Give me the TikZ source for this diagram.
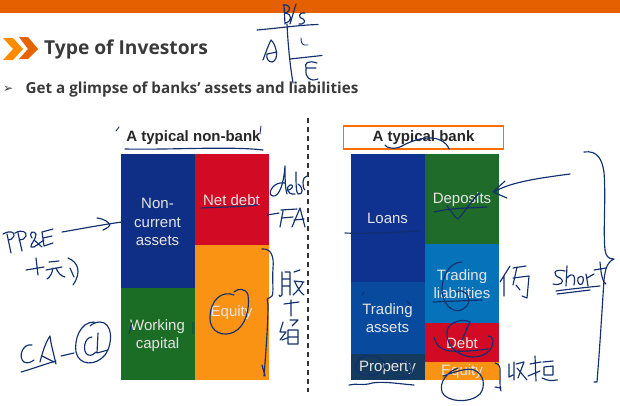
\documentclass[tikz,border=0pt]{standalone}
\usepackage{fontspec}
\setmainfont{Open Sans}
\newfontfamily\arialf{Liberation Sans}
\newfontfamily\djv{DejaVu Sans}
\definecolor{hdr}{HTML}{E46000}
\definecolor{ink}{HTML}{12306F}
\definecolor{navy}{HTML}{0F2F87}
\definecolor{redb}{HTML}{D20A24}
\definecolor{greenb}{HTML}{1B6D25}
\definecolor{orangeb}{HTML}{FA9214}
\definecolor{loans}{HTML}{0F318F}
\definecolor{tassets}{HTML}{084A9E}
\definecolor{prop}{HTML}{143A5E}
\definecolor{deps}{HTML}{1F6B2A}
\definecolor{tliab}{HTML}{0672BA}
\definecolor{txtg}{HTML}{3A3A3A}
\tikzset{
 seg/.style={fill=#1,draw=none,inner sep=0pt,anchor=north west},
 lbl/.style={font=\arialf\fontsize{15}{18.2}\selectfont,text=white!90!black,align=center,inner sep=0pt},
 pen/.style={draw=ink,line width=1.15pt,line cap=round,line join=round},
 thin pen/.style={draw=ink,line width=.9pt,line cap=round,line join=round},
 captxt/.style={font=\arialf\bfseries\fontsize{15}{18}\selectfont,text=black!85,inner sep=0pt}
}
\newcommand{\segbox}[6]{\node[seg=#6,minimum width=#3pt,minimum height=#4pt] (#5) at (#1,#2) {};}
\begin{document}
\begin{tikzpicture}[x=1pt,y=-1pt]
\useasboundingbox (0,0) rectangle (620,405);
\fill[white] (0,0) rectangle (620,405);
\fill[hdr] (0,0) rectangle (620,13);
% title
\fill[orange!90!yellow] (3,38) -- (13,38) -- (23,49) -- (13,60) -- (3,60) -- (13,49) -- cycle;
\fill[hdr!90!orange] (19,37) -- (28,37) -- (38,49) -- (28,59) -- (19,59) -- (28,49) -- cycle;
\node[anchor=west,inner sep=0pt,font=\bfseries\fontsize{19.2}{22}\selectfont,text=txtg] (title) at (44,49) {Type of Investors};
\node[anchor=west,inner sep=0pt,font=\djv\fontsize{12}{14}\selectfont,text=txtg] (bul) at (3,89) {➢};
\node[anchor=west,inner sep=0pt,font=\bfseries\fontsize{15.2}{18}\selectfont,text=txtg] (sub) at (25.5,90) {Get a glimpse of banks’ assets and liabilities};
% non-bank
\segbox{120.5}{154}{74}{134}{nca}{navy}
\segbox{120.5}{288}{74}{92}{wc}{greenb}
\segbox{194.5}{154}{74}{91}{nd}{redb}
\segbox{194.5}{245}{74}{135}{eq}{orangeb}
\node[lbl] at (157.5,222) {Non-\\current\\assets};
\node[lbl] at (157.5,335.5) {Working\\capital};
\node[lbl] at (231.5,200) {Net debt};
\node[lbl] at (231.5,313) {Equity};
\node[captxt] (c1) at (193.5,138) {A typical non-bank};
% divider
\coordinate (d1) at (308,118); \coordinate (d2) at (308,392);
\draw[black!80,line width=1.5pt,dash pattern=on 5pt off 4pt] (d1) -- (d2);
% bank
\segbox{350.7}{154}{74.3}{127.7}{lo}{loans}
\segbox{350.7}{281.7}{74.3}{72.3}{ta}{tassets}
\segbox{350.7}{354}{74.3}{26}{pr}{prop}
\segbox{425}{154}{74}{90}{de}{deps}
\segbox{425}{244}{74}{78.7}{tl}{tliab}
\segbox{425}{322.7}{74}{39.3}{db}{redb}
\segbox{425}{362}{74}{18}{eb}{orangeb}
\node[lbl] at (387.5,218) {Loans};
\node[lbl] at (387.5,318) {Trading\\assets};
\node[lbl] at (387.5,368) {Property};
\node[lbl] at (462,200) {Deposits};
\node[lbl] at (462,284.5) {Trading\\liabilities};
\node[lbl] at (462,343) {Debt};
\node[lbl] at (462,372) {Equity};
\node[captxt,draw=orange!85!red,line width=1.8pt,minimum width=160pt,minimum height=22.5pt,fill=white] (c2) at (423.5,137.5) {A typical bank};
% B/S
\draw[pen] (257,30) .. controls (280,28) and (300,25) .. (318,24.5);
\draw[pen] (287,24) .. controls (288,45) and (290,65) .. (293,83);
\draw[pen] (290,59) -- (322,55.5);
\draw[pen] (284,5) -- (285,24) (283,5) .. controls (291,4) and (292,11) .. (285,13) .. controls (293,14) and (292,22) .. (285,23) (296,4) -- (290,24) (305,13) .. controls (298,12) and (298,18) .. (303,19) .. controls (307,21) and (303,25) .. (299,24);
\draw[pen] (263,60) .. controls (266,52) and (268,46) .. (271,40) .. controls (276,44) and (280,60) .. (272,62) .. controls (268,62) and (266,58) .. (267,54) -- (277,52);
\draw[thin pen] (301,38) .. controls (301,43) and (302,46) .. (308,45);
\draw[pen] (317,63) .. controls (308,60) and (304,63) .. (306,68) -- (316,68) (306,69) .. controls (305,78) and (310,82) .. (318,79);
% non-bank ink
\draw[pen] (125,149) .. controls (170,150) and (230,146) .. (263,150);
\draw[thin pen] (116,131) -- (119,127) (260,134) -- (261,126);
\draw[pen] (62,232) .. controls (80,229) and (100,225) .. (122,222);
\draw[pen] (97,218) .. controls (105,219) and (108,222) .. (110,225) .. controls (108,228) and (105,229) .. (103,230);
\draw[thin pen] (134,195) .. controls (132,198) and (133,200) .. (136,201);
\draw[pen] (201,208) .. controls (220,207) and (240,207) .. (258,205);
\draw[pen] (135,247) -- (180,246);
% PPE
\draw[pen] (3,234) .. controls (10,230) and (15,232) .. (14,236) .. controls (13,239) and (10,240) .. (8,240) (7,234) -- (11,253) (15,233) .. controls (22,229) and (27,232) .. (26,236) .. controls (25,239) and (22,240) .. (19,240) (18,233) -- (22,251) (32,238) .. controls (28,232) and (34,230) .. (36,234) .. controls (36,240) and (30,244) .. (31,247) .. controls (34,249) and (40,242) .. (44,240) (34,240) -- (42,247) (53,229) -- (42,232) -- (44,246) -- (53,243) (43,238) -- (52,236);
\draw[pen] (26,270) -- (44,267) (36,258) -- (38,275) (49,262) -- (59,261) (46,270) -- (62,267) (53,268) .. controls (52,274) and (50,277) .. (47,279) (56,268) .. controls (58,273) and (61,276) .. (65,277) (68,258) .. controls (78,262) and (82,272) .. (73,285) (70,268) -- (74,277);
% CA-CL
\draw[pen] (32,345) .. controls (22,343) and (18,358) .. (24,362) .. controls (28,364) and (31,362) .. (34,360);
\draw[pen] (40,362) .. controls (43,350) and (46,342) .. (50,336) .. controls (51,345) and (54,355) .. (56,364) (42,356) -- (54,362);
\draw[pen] (21,372) .. controls (32,369) and (45,364) .. (56,361);
\draw[pen] (61,356) -- (74,353);
\draw[pen] (94,322) .. controls (80,322) and (74,340) .. (76,352) .. controls (79,366) and (96,366) .. (105,355) .. controls (114,342) and (112,322) .. (100,322) .. controls (96,322) and (92,324) .. (90,326);
\draw[pen] (92,337) .. controls (84,337) and (82,352) .. (88,355) .. controls (92,356) and (94,354) .. (96,352) (98,333) -- (97,353) -- (108,350);
\draw[thin pen] (129,334) -- (132,322) (193,322) -- (193,334);
% equity circle
\draw[pen] (234,295) .. controls (222,290) and (210,300) .. (210,318) .. controls (210,333) and (224,337) .. (234,332) .. controls (246,326) and (250,308) .. (248,295) .. controls (246,288) and (238,288) .. (234,292);
% brace
\draw[pen] (262,249) .. controls (272,248) and (274,258) .. (273,268) .. controls (272,282) and (274,292) .. (272,296) .. controls (268,300) and (266,296) .. (268,304) .. controls (268,325) and (266,350) .. (264,376) (262,365) -- (265,376);
% debt - FA
\draw[pen] (285,183) .. controls (274,181) and (268,192) .. (271,195) .. controls (276,199) and (283,192) .. (285,166) .. controls (285,176) and (285,188) .. (287,194) (289,190) .. controls (294,188) and (293,184) .. (290,185) .. controls (286,186) and (286,195) .. (295,194) (296,172) .. controls (296,184) and (296,192) .. (298,194) .. controls (303,195) and (304,188) .. (298,184) (307,176) .. controls (302,176) and (302,188) .. (305,190);
\draw[pen] (267,215) -- (279,213) (283,211) -- (280,227) (281,210) -- (297,209) (282,218) -- (293,217) (300,208) -- (292,227) (300,208) -- (305,227) (294,220) -- (304,219);
% chinese right
\draw[pen] (282,272) -- (282,295) .. controls (281,297) and (279,297) .. (279,295) (285,272) -- (290,272) -- (290,295) (282,279) -- (289,279) (282,286) -- (289,286) (294,272) -- (300,270) (294,281) -- (304,282) (295,282) .. controls (298,289) and (301,293) .. (304,295) (303,282) .. controls (300,289) and (296,292) .. (293,295);
\draw[pen] (284,304) -- (299,302) (291,300) -- (291,316);
\draw[pen] (283,322) -- (280,332) -- (286,332) -- (280,340) (282,340) -- (287,338) (290,320) -- (298,320) -- (292,326) (288,330) -- (288,344) -- (298,344) -- (298,330) -- cycle (288,337) -- (298,337);
% bank ink
\draw[pen] (385,145) .. controls (386,148) and (395,150) .. (402,146) .. controls (412,140) and (430,135) .. (440,140) .. controls (445,142) and (448,146) .. (449,149);
\draw[pen] (345,233) .. controls (365,234) and (400,232) .. (420,231);
\draw[pen] (570,174) .. controls (540,178) and (510,182) .. (494,192);
\draw[pen] (505,181) -- (493,192) -- (507,198);
\draw[pen] (434,212) .. controls (450,208) and (470,208) .. (487,207);
\draw[pen] (447,206) .. controls (452,212) and (455,218) .. (458,219) .. controls (463,214) and (470,203) .. (479,193);
\draw[pen] (462,262) .. controls (448,262) and (441,280) .. (442,292) .. controls (444,308) and (456,314) .. (463,309) .. controls (468,306) and (470,302) .. (468,296) .. controls (464,290) and (460,290) .. (456,292);
\draw[pen] (433,302) -- (482,300);
\draw[thin pen] (362,295) -- (364,292) (407,301) -- (411,305);
\draw[pen] (470,322) .. controls (462,318) and (450,322) .. (447,330) .. controls (446,342) and (452,352) .. (466,356) .. controls (480,360) and (494,352) .. (493,340) .. controls (493,337) and (490,336) .. (488,336);
\draw[pen] (434,337) .. controls (436,346) and (442,350) .. (450,351) .. controls (465,352) and (480,350) .. (488,349);
\draw[pen] (470,322) -- (462,340) (470,322) -- (466,330);
% property
\draw[pen] (360,358) .. controls (368,353) and (382,356) .. (385,364) .. controls (386,372) and (370,380) .. (358,372) .. controls (352,366) and (358,358) .. (366,356);
\draw[pen] (393,362) .. controls (400,358) and (410,362) .. (412,370) .. controls (412,376) and (404,380) .. (396,376);
\draw[pen] (349,385) .. controls (356,383) and (364,386) .. (372,383) .. controls (384,381) and (400,384) .. (414,385);
% equity circle bank
\draw[pen] (458,368) .. controls (447,372) and (439,382) .. (442,392) .. controls (446,402) and (470,404) .. (480,394) .. controls (486,386) and (484,374) .. (474,370) .. controls (468,368) and (460,370) .. (443,376);
% small bracket
\draw[pen] (495,363) .. controls (501,364) and (500,368) .. (500,378) .. controls (500,384) and (500,388) .. (501,391) (495,387) -- (501,388);
% ch 2
\draw[pen] (509,364) -- (509,377) -- (513,375) (514,362) -- (514,380) (516,364) -- (524,362) -- (518,378) (517,368) -- (527,380);
\draw[pen] (530,364) -- (541,362) (535,356) -- (536,381) (528,376) -- (540,371);
\draw[pen] (543,362) -- (553,361) (544,367) -- (553,366) -- (553,375) -- (544,375) -- cycle (542,378) .. controls (548,381) and (553,381) .. (556,380);
\fill[ink] (557,380) circle (.8pt);
% 仍
\draw[pen] (510,266) -- (500,282) (504,276) -- (504,296) (513,268) -- (526,266) (517,267) -- (513,285) (513,278) -- (529,276) -- (527,298) -- (522,296) (516,285) -- (520,290);
% short
\draw[pen] (565,271) .. controls (553,268) and (552,275) .. (560,278) .. controls (566,282) and (560,286) .. (553,284);
\draw[pen] (567,266) -- (566,286) (567,278) .. controls (572,272) and (576,274) .. (574,285) (578,278) .. controls (583,274) and (585,278) .. (582,284) .. controls (579,286) and (577,282) .. (578,278) (586,274) -- (588,286) (587,278) -- (594,274) (594,270) -- (606,268) (600,262) .. controls (601,275) and (603,283) .. (606,284);
\draw[pen] (556,291) .. controls (570,289) and (590,287) .. (600,286) (557,294) -- (590,290);
% large brace
\draw[pen] (584,152) .. controls (598,150) and (602,160) .. (604,172) .. controls (606,200) and (603,230) .. (605,250) .. controls (606,256) and (608,259) .. (614,259) .. controls (607,262) and (605,270) .. (604,280) .. controls (602,310) and (600,345) .. (597,382) (597,382) -- (594,382);
\end{tikzpicture}
\end{document}
